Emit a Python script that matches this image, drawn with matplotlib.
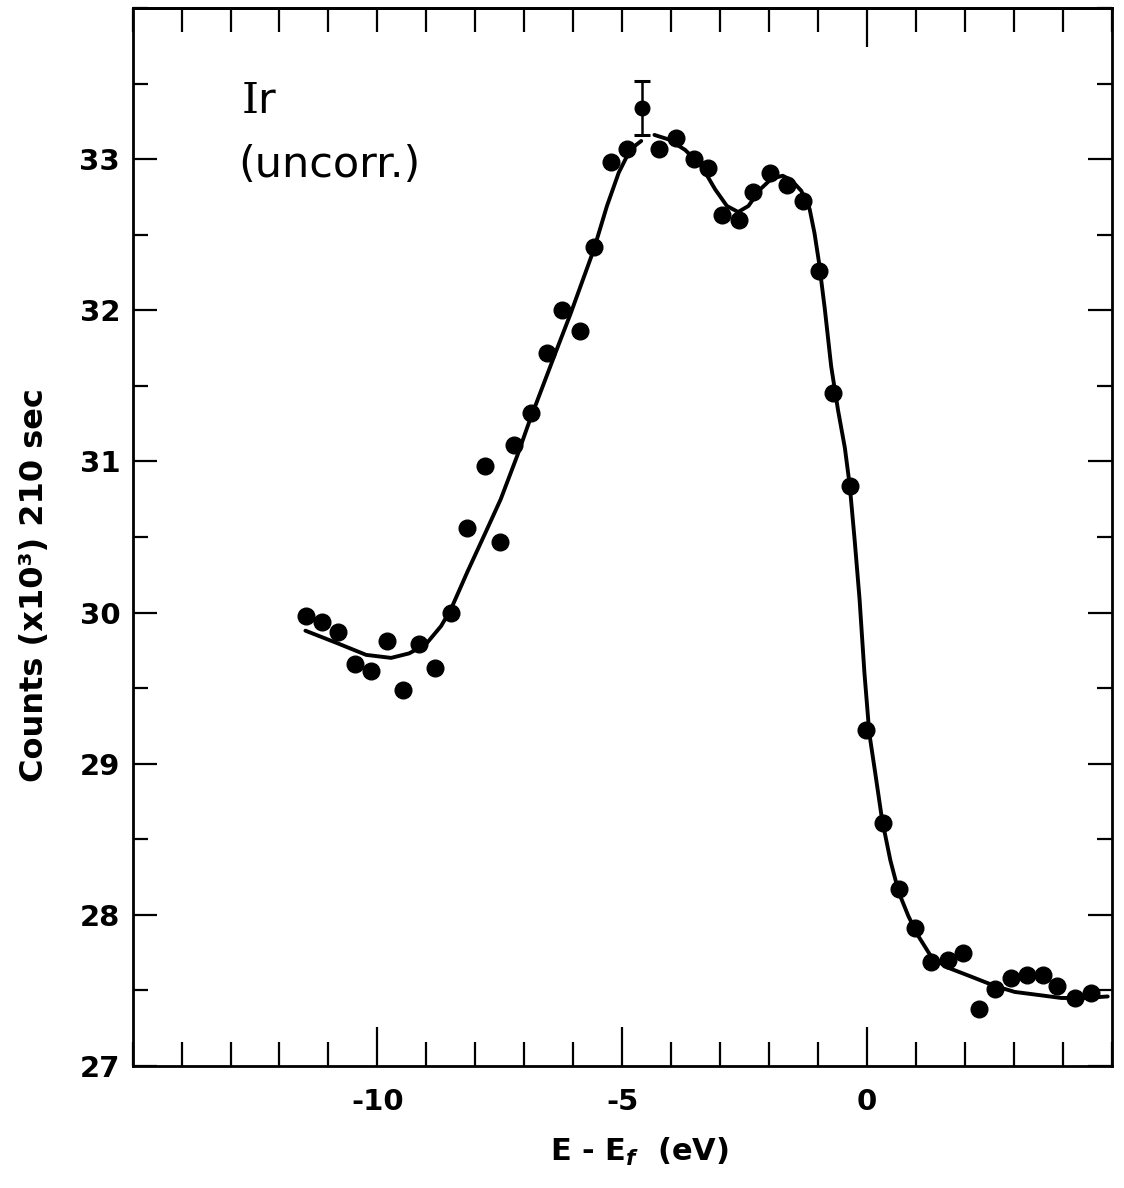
import matplotlib
matplotlib.use("Agg")
import matplotlib.pyplot as plt
from matplotlib.ticker import MultipleLocator, FixedLocator, NullFormatter

plt.rcParams['font.family'] = ['DejaVu Sans']
plt.rcParams['axes.unicode_minus'] = False
plt.rcParams['mathtext.fontset'] = 'custom'
plt.rcParams['mathtext.rm'] = 'DejaVu Serif'
plt.rcParams['mathtext.it'] = 'DejaVu Sans:italic:bold'

# ---- measured spectrum (E - Ef in eV, counts x10^3 per 210 s) ----
energy = [-11.45, -11.13, -10.80, -10.46, -10.14, -9.80, -9.47, -9.16, -8.83, -8.50,
          -8.17, -7.81, -7.50, -7.20, -6.87, -6.53, -6.23, -5.87, -5.58, -5.22,
          -4.90, -4.60, -4.25, -3.89, -3.54, -3.25, -2.95, -2.62, -2.32, -1.98,
          -1.64, -1.31, -0.98, -0.69, -0.34, -0.01, 0.33, 0.65, 0.98, 1.32,
          1.65, 1.97, 2.30, 2.61, 2.95, 3.28, 3.60, 3.89, 4.26, 4.58]
counts = [29.98, 29.94, 29.87, 29.66, 29.61, 29.81, 29.49, 29.79, 29.63, 30.00,
          30.56, 30.97, 30.47, 31.11, 31.32, 31.72, 32.00, 31.86, 32.42, 32.98,
          33.07, 33.34, 33.07, 33.14, 33.00, 32.94, 32.63, 32.60, 32.78, 32.91,
          32.83, 32.72, 32.26, 31.45, 30.84, 29.22, 28.61, 28.17, 27.91, 27.69,
          27.70, 27.75, 27.38, 27.51, 27.58, 27.60, 27.60, 27.53, 27.45, 27.48]

# typical statistical error, shown on one point only
err_index = 21
err_half = 0.18

# hand-drawn guide curve, broken where it passes the error bar
curve_left_x = [-11.47, -10.84, -10.23, -9.72, -9.35, -9.01, -8.70, -8.50, -8.16, -7.79,
                -7.48, -7.14, -6.90, -6.36, -6.05, -5.58, -5.31, -5.07, -4.90, -4.73, -4.61]
curve_left_y = [29.88, 29.80, 29.72, 29.70, 29.73, 29.79, 29.91, 30.02, 30.27, 30.53,
                30.75, 31.04, 31.26, 31.72, 31.98, 32.40, 32.69, 32.91, 33.02, 33.09, 33.12]
curve_right_x = [-4.34, -4.05, -3.71, -3.37, -3.10, -2.86, -2.63, -2.42, -2.18, -1.95,
                 -1.72, -1.54, -1.34, -1.17, -1.07, -0.98, -0.86, -0.73, -0.59, -0.45,
                 -0.35, -0.25, -0.15, -0.05, 0.05, 0.17, 0.31, 0.48, 0.65, 0.85,
                 1.05, 1.32, 1.66, 2.14, 2.61, 3.02, 3.50, 3.97, 4.45, 4.92]
curve_right_y = [33.16, 33.13, 33.06, 32.95, 32.80, 32.69, 32.65, 32.69, 32.80, 32.87,
                 32.89, 32.86, 32.79, 32.67, 32.51, 32.32, 32.01, 31.63, 31.34, 31.09,
                 30.84, 30.48, 30.09, 29.60, 29.20, 28.94, 28.63, 28.36, 28.15, 27.99,
                 27.86, 27.72, 27.65, 27.59, 27.53, 27.49, 27.47, 27.45, 27.45, 27.46]

x_major = [-10, -5, 0]
y_major = [27, 28, 29, 30, 31, 32, 33]

fig = plt.figure(figsize=(11.24, 11.88), dpi=100)
ax = fig.add_axes([0.118, 0.1027, 0.871, 0.8906])

ax.plot(curve_left_x, curve_left_y, color='black', lw=2.8, solid_capstyle='round',
        solid_joinstyle='round', zorder=2)
ax.plot(curve_right_x, curve_right_y, color='black', lw=2.8, solid_capstyle='round',
        solid_joinstyle='round', zorder=2)

pts_x = [e for i, e in enumerate(energy) if i != err_index]
pts_y = [c for i, c in enumerate(counts) if i != err_index]
ax.plot(pts_x, pts_y, 'o', color='black', ms=12, zorder=3)
ax.errorbar(energy[err_index], counts[err_index], yerr=err_half, fmt='o', color='black',
            ms=10.5, elinewidth=1.8, capsize=6, capthick=2.2, zorder=3)

ax.set_xlim(-15, 5)
ax.set_ylim(27, 34)

ax.xaxis.set_major_locator(FixedLocator(x_major))
ax.xaxis.set_minor_locator(MultipleLocator(1))
ax.yaxis.set_major_locator(FixedLocator(y_major))
ax.yaxis.set_minor_locator(MultipleLocator(0.5))

ax.tick_params(axis='x', which='both', direction='in', top=False, bottom=True,
               width=1.6, labelsize=21, pad=16)
ax.tick_params(axis='x', which='major', length=28)
ax.tick_params(axis='x', which='minor', length=17)
ax.tick_params(axis='y', which='both', direction='in', left=True, right=True,
               width=1.6, labelsize=21, pad=9)
ax.tick_params(axis='y', which='major', length=17)
ax.tick_params(axis='y', which='minor', length=11)
for lbl in ax.get_xticklabels() + ax.get_yticklabels():
    lbl.set_fontweight('bold')

# upper scale: only zero gets the long tick
top = ax.secondary_xaxis('top')
top.xaxis.set_major_locator(FixedLocator([0]))
top.xaxis.set_minor_locator(MultipleLocator(1))
top.xaxis.set_major_formatter(NullFormatter())
top.tick_params(which='both', direction='in', width=1.6)
top.tick_params(which='major', length=28)
top.tick_params(which='minor', length=17)
top.spines['top'].set_linewidth(2.0)

for s in ax.spines.values():
    s.set_linewidth(2.0)

ax.set_xlabel(r'E - E$_f$  (eV)', fontsize=22, fontweight='bold')
ax.xaxis.set_label_coords(0.518, -0.066)
ax.set_ylabel('Counts (x10³) 210 sec', fontsize=23, fontweight='bold', va='center')
ax.yaxis.set_label_coords(-0.10, 0.455)

ax.text(0.111, 0.901, r'$\mathrm{I}$r', transform=ax.transAxes, fontsize=31,
        ha='left', va='baseline')
ax.text(0.108, 0.840, '(uncorr.)', transform=ax.transAxes, fontsize=31,
        ha='left', va='baseline')

fig.savefig('out.png', dpi=100, facecolor='white')
